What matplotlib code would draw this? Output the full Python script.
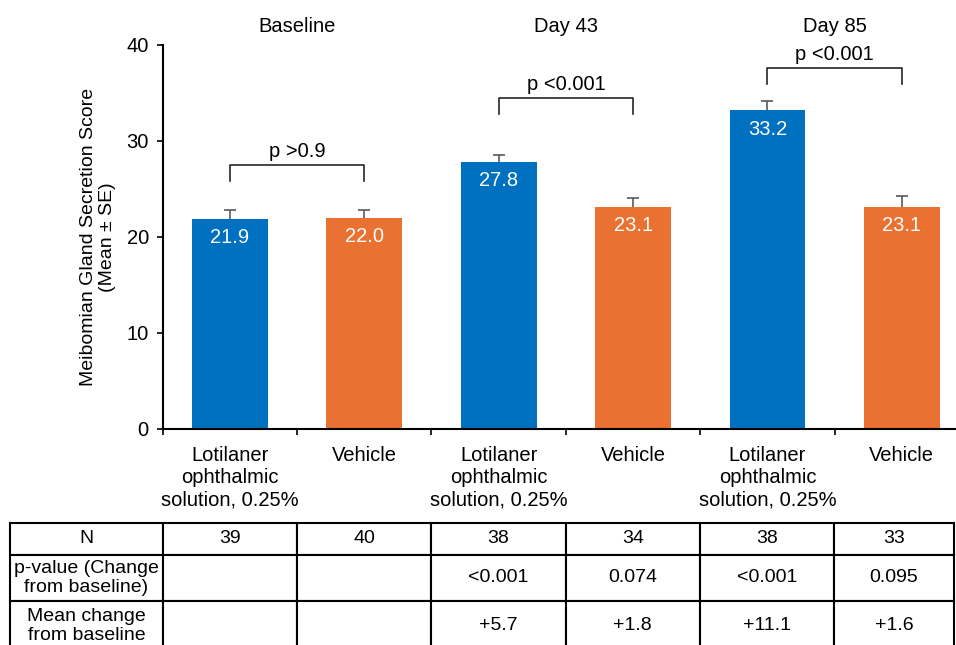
import numpy as np
import matplotlib
matplotlib.use('Agg')
import matplotlib.pyplot as plt

plt.rcParams['font.family'] = ['Liberation Sans', 'DejaVu Sans']

# data
groups = ['Baseline', 'Day 43', 'Day 85']
categories = ['Lotilaner\nophthalmic\nsolution, 0.25%', 'Vehicle'] * 3
means = [21.9, 22.0, 27.8, 23.1, 33.2, 23.1]
se = [0.9, 0.8, 0.7, 1.0, 1.0, 1.2]
p_between = ['p >0.9', 'p <0.001', 'p <0.001']
bracket_top = [27.5, 34.5, 37.6]

row_labels = ['N', 'p-value (Change\nfrom baseline)', 'Mean change\nfrom baseline']
n_row = ['39', '40', '38', '34', '38', '33']
p_row = ['', '', '<0.001', '0.074', '<0.001', '0.095']
change_row = ['', '', '+5.7', '+1.8', '+11.1', '+1.6']

blue = '#0070C0'
orange = '#E97132'
colors = [blue, orange] * 3

W, H = 956, 645
fig = plt.figure(figsize=(W / 100, H / 100), dpi=100)
ax = fig.add_axes([162.7 / W, 216 / H, 806.4 / W, 384 / H])

x = np.arange(len(means))
ax.bar(x, means, width=0.565, color=colors, zorder=2)
eb = ax.errorbar(x, means, yerr=[np.zeros(len(se)), se], fmt='none',
                 ecolor='#595959', elinewidth=1.2, capsize=4, capthick=1.2, zorder=3)
eb[1][0].set_visible(False)  # hide lower caps

for xi, m in zip(x, means):
    ax.annotate(f'{m:.1f}', (xi, m), xytext=(0, -13.5), textcoords='offset points',
                ha='center', va='center', color='white', fontsize=14.5)

# brackets with p-values
for i, (top, ptxt) in enumerate(zip(bracket_top, p_between)):
    x0, x1 = 2 * i, 2 * i + 1
    ax.plot([x0, x0, x1, x1], [top - 1.7, top, top, top - 1.7], color='#262626', lw=1.2)
    ax.text((x0 + x1) / 2, top + 1.4, ptxt, ha='center', va='center', fontsize=14.5)
    ax.text((x0 + x1) / 2, 41.9, groups[i], ha='center', va='center', fontsize=14.5,
            clip_on=False)

ax.set_xlim(-0.5, 5.5)
ax.set_ylim(0, 40)
ax.set_yticks([0, 10, 20, 30, 40])
ax.set_xticks(x)
ax.set_xticklabels(categories, fontsize=14.5, linespacing=1.22, va='top')
ax.set_xticks(np.arange(-0.5, 6, 1), minor=True)
ax.tick_params(axis='x', which='major', length=0, pad=12)
ax.tick_params(axis='x', which='minor', length=4, width=1.2, direction='out')
ax.tick_params(axis='y', length=4, width=1.2, labelsize=14.5, pad=6)
for s in ['top', 'right']:
    ax.spines[s].set_visible(False)
for s in ['left', 'bottom']:
    ax.spines[s].set_linewidth(1.5)
ax.set_ylabel('Meibomian Gland Secretion Score\n(Mean ± SE)', fontsize=14, linespacing=1.15)
ax.yaxis.set_label_coords(-0.058, 0.5)

# table
tax = fig.add_axes([10 / W, -6 / H, 944 / W, 128.3 / H])
tax.axis('off')
cells = [[row_labels[0]] + n_row, [row_labels[1]] + p_row, [row_labels[2]] + change_row]
col_w = [152.7, 134, 134, 134.4, 134, 134, 120]
tbl = tax.table(cellText=cells, colWidths=[c / sum(col_w) for c in col_w],
                cellLoc='center', bbox=[0, 0, 1, 1])
tbl.auto_set_font_size(False)
row_h = [32.3, 46, 50]
for (r, c), cell in tbl.get_celld().items():
    cell.set_height(row_h[r])
    cell.set_linewidth(1.5)
    cell.PAD = 0.01
    cell.get_text().set_fontsize(14)
    cell.get_text().set_linespacing(1.12)

fig.savefig('out.png', dpi=100)
